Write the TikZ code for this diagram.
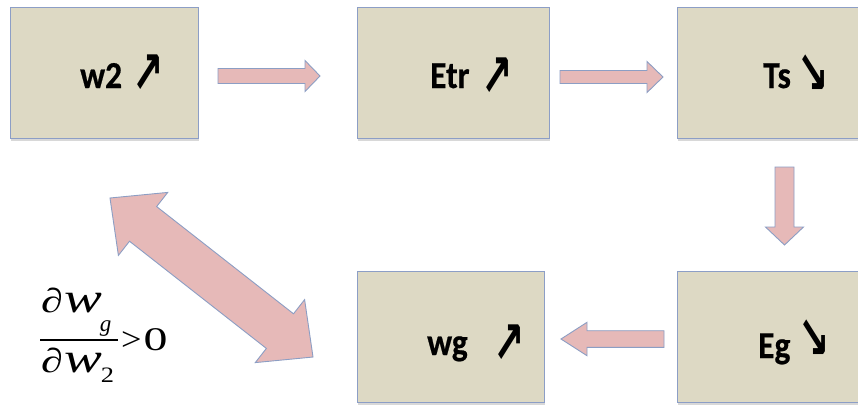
\documentclass[tikz,border=0pt]{standalone}
\usepackage{fontspec}
\usepackage{graphicx}
\setmainfont{Carlito}
\newfontfamily\lblfont[FakeBold=0.6]{Carlito}
\newfontfamily\symfont{DejaVu Sans}
\newfontfamily\eqfont{Liberation Serif}
\usetikzlibrary{calc,shadows}

\definecolor{boxfill}{RGB}{221,217,196}
\definecolor{boxline}{RGB}{140,158,198}
\definecolor{arrfill}{RGB}{230,185,184}
\definecolor{arrline}{RGB}{140,158,196}

% label text is set slightly condensed
\newcommand\cond[1]{\scalebox{0.88}[1]{#1}}
\newcommand\uparr{\scalebox{1.1}[1.75]{\symfont\bfseries ↗}}
\newcommand\downarr{\scalebox{1.1}[1.75]{\symfont\bfseries ↘}}
% pieces of the derivative, each widened
\newcommand\pd{\scalebox{1.3}[1]{\fontsize{34}{40}\selectfont ∂}}
\newcommand\wv{\scalebox{1.35}[1]{\fontsize{42}{44}\selectfont\itshape w}}
\newcommand\subg{\raisebox{-19pt}{\fontsize{23}{24}\selectfont\itshape g}}
\newcommand\subtwo{\raisebox{-10pt}{\scalebox{1.2}[1]{\fontsize{22}{24}\selectfont 2}}}

% block arrow: tail, tip, shaft half-width, head half-width, head length
\newcommand\blockarrow[5]{%
  \draw[blk] let \p1=($(#2)-(#1)$), \n1={atan2(\y1,\x1)}, \n2={veclen(\x1,\y1)} in
    ([shift={(#1)},rotate=\n1]0,-#3)
    -- ([shift={(#1)},rotate=\n1]{\n2-#5},-#3)
    -- ([shift={(#1)},rotate=\n1]{\n2-#5},-#4)
    -- ([shift={(#1)},rotate=\n1]{\n2},0)
    -- ([shift={(#1)},rotate=\n1]{\n2-#5},#4)
    -- ([shift={(#1)},rotate=\n1]{\n2-#5},#3)
    -- ([shift={(#1)},rotate=\n1]0,#3) -- cycle;}
% double-headed block arrow: end, end, shaft half-width, head half-width, head length
\newcommand\dblockarrow[5]{%
  \draw[blk] let \p1=($(#2)-(#1)$), \n1={atan2(\y1,\x1)}, \n2={veclen(\x1,\y1)} in
    ([shift={(#1)},rotate=\n1]0,0)
    -- ([shift={(#1)},rotate=\n1]#5,-#4)
    -- ([shift={(#1)},rotate=\n1]#5,-#3)
    -- ([shift={(#1)},rotate=\n1]{\n2-#5},-#3)
    -- ([shift={(#1)},rotate=\n1]{\n2-#5},-#4)
    -- ([shift={(#1)},rotate=\n1]{\n2},0)
    -- ([shift={(#1)},rotate=\n1]{\n2-#5},#4)
    -- ([shift={(#1)},rotate=\n1]{\n2-#5},#3)
    -- ([shift={(#1)},rotate=\n1]#5,#3)
    -- ([shift={(#1)},rotate=\n1]#5,#4) -- cycle;}

\tikzset{
  box/.style={draw=boxline, fill=boxfill, line width=1pt, inner sep=0pt,
    anchor=north west, minimum height=131pt,
    drop shadow={shadow xshift=0.5pt, shadow yshift=-2pt, opacity=0.3}},
  blk/.style={fill=arrfill, draw=arrline, line width=0.9pt, line join=miter},
  lbl/.style={font=\lblfont\fontsize{38}{40}\selectfont\bfseries, inner sep=0pt, anchor=base west},
  sym/.style={font=\fontsize{34}{40}\selectfont, inner sep=0pt},
  eq/.style={font=\eqfont, inner sep=0pt, anchor=base west},
}

\begin{document}
\begin{tikzpicture}[x=1pt,y=-1pt]
  \useasboundingbox (0,0) rectangle (858,405);
  \fill[white] (0,0) rectangle (858,405);
  \clip (0,0) rectangle (858,405);

  % boxes
  \node[box, minimum width=188pt] (w2)  at (10,7)   {};
  \node[box, minimum width=192pt] (etr) at (357,7)  {};
  \node[box, minimum width=200pt] (ts)  at (677,7)  {};
  \node[box, minimum width=187pt] (wg)  at (357,271) {};
  \node[box, minimum width=200pt] (eg)  at (677,271) {};

  % labels
  \node[lbl] (w2t)  at (80,88)   {\cond{w2}};
  \node[lbl] (etrt) at (430,88)  {\cond{Etr}};
  \node[lbl] (tst)  at (763,88)  {\cond{Ts}};
  \node[lbl] (wgt)  at (427,355) {\cond{wg}};
  \node[lbl] (egt)  at (758,358) {\cond{Eg}};
  \node[sym] (w2a)  at (148,74)  {\uparr};
  \node[sym] (etra) at (497,77)  {\uparr};
  \node[sym] (tsa)  at (813,74)  {\downarr};
  \node[sym] (wga)  at (509,344) {\uparr};
  \node[sym] (ega)  at (814,339) {\downarr};

  % arrow end points
  \coordinate (a1s) at (218,76);  \coordinate (a1e) at (320,76);
  \coordinate (a2s) at (560,77);  \coordinate (a2e) at (663,77);
  \coordinate (a3s) at (784.5,167); \coordinate (a3e) at (784.5,245);
  \coordinate (a4s) at (664,339); \coordinate (a4e) at (561,339);
  \coordinate (a5s) at (110,198); \coordinate (a5e) at (313,357);

  \blockarrow{a1s}{a1e}{7.5}{15.5}{15}
  \blockarrow{a2s}{a2e}{6.5}{15.5}{16}
  \blockarrow{a3s}{a3e}{9.5}{19}{18}
  \blockarrow{a4s}{a4e}{8.3}{16.7}{26}
  \dblockarrow{a5s}{a5e}{22}{40}{42}

  % derivative condition
  \node[eq] (num) at (41,312) {\pd\kern1pt\wv\kern-2pt\subg};
  \node[eq] (den) at (41,372) {\pd\kern1pt\wv\kern-1pt\subtwo};
  \coordinate (barl) at (40,340);
  \coordinate (barr) at (118,340);
  \draw[line width=1.1pt] (barl) -- (barr);
  \node[eq] (rel) at (121,350) {\scalebox{1.1}[1]{\fontsize{33}{36}\selectfont >}\kern2pt\scalebox{1.45}[1]{\fontsize{33}{36}\selectfont 0}};
\end{tikzpicture}
\end{document}
